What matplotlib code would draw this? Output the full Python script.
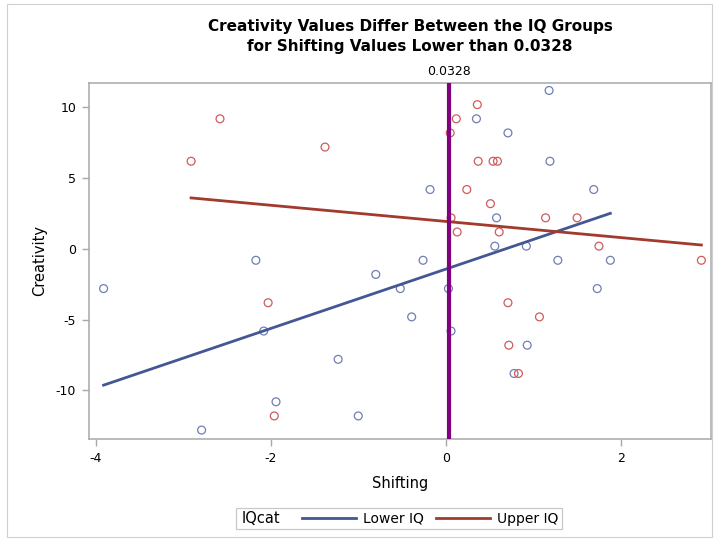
import numpy as np
import matplotlib
matplotlib.use("Agg")
import matplotlib.pyplot as plt
from matplotlib.patches import Rectangle

# ---- data ----
lower_x = [1.18, 0.35, 0.71, 1.19, -0.18, 1.69, 0.58, 0.56, 0.92, -3.91, -2.17, -2.08,
           -0.80, -0.26, -0.52, -0.39, -1.23, -1.00, -1.94, -2.79, 0.03, 0.06, 1.28,
           1.88, 1.73, 0.93, 0.78]
lower_y = [11.2, 9.2, 8.2, 6.2, 4.2, 4.2, 2.2, 0.2, 0.2, -2.8, -0.8, -5.8,
           -1.8, -0.8, -2.8, -4.8, -7.8, -11.8, -10.8, -12.8, -2.8, -5.8, -0.8,
           -0.8, -2.8, -6.8, -8.8]
upper_x = [-2.58, -2.91, -1.38, 0.36, 0.12, 0.05, 0.37, 0.54, 0.59, 0.24, 0.51, 0.06,
           0.13, 0.61, 1.14, 1.50, 1.75, 2.92, -2.03, -1.96, 0.71, 1.07, 0.72, 0.83]
upper_y = [9.2, 6.2, 7.2, 10.2, 9.2, 8.2, 6.2, 6.2, 6.2, 4.2, 3.2, 2.2,
           1.2, 1.2, 2.2, 2.2, 0.2, -0.8, -3.8, -11.8, -3.8, -4.8, -6.8, -8.8]
cutoff = 0.0328
x_ticks = [-4, -2, 0, 2]
y_ticks = [-10, -5, 0, 5, 10]
group_labels = ["Lower IQ", "Upper IQ"]

# ---- style ----
line_cols = ["#445694", "#A23A2E"]
mark_cols = ["#6F7EB3", "#D05B5B"]
axis_col = "#A8A8A8"
plt.rcParams['font.family'] = ['DejaVu Sans']
plt.rcParams['axes.unicode_minus'] = False

W, H = 714, 539
fig = plt.figure(figsize=(W / 100, H / 100), dpi=100)
fig.patches.append(Rectangle((7 / W, 2 / H), (W - 9) / W, (H - 6) / H, transform=fig.transFigure,
                             fill=False, edgecolor="#D0D0D0", linewidth=0.8))

ax = fig.add_axes([88.7 / W, 1 - 439 / H, (711 - 88.7) / W, (439 - 82.7) / H])
ax.set_xlim(-4.08, 3.03)
ax.set_ylim(-13.43, 11.75)

groups = [(lower_x, lower_y), (upper_x, upper_y)]
handles = []
for (gx, gy), lc, mc, lab in zip(groups, line_cols, mark_cols, group_labels):
    gx = np.array(gx); gy = np.array(gy)
    ax.scatter(gx, gy, s=32, facecolors="none", edgecolors=mc, linewidths=0.9, zorder=3)
    b, a = np.polyfit(gx, gy, 1)
    xs = np.array([gx.min(), gx.max()])
    h, = ax.plot(xs, a + b * xs, color=lc, linewidth=2, zorder=4, label=lab)
    handles.append(h)

ax.axvline(cutoff, color="#800080", linewidth=3, zorder=5)
ax.text(cutoff, 1.012, "0.0328", transform=ax.get_xaxis_transform(), ha="center", va="bottom",
        fontsize=9)

ax.set_xticks(x_ticks)
ax.set_yticks(y_ticks)
for s in ax.spines.values():
    s.set_color(axis_col)
    s.set_linewidth(1.1)
ax.tick_params(colors=axis_col, labelcolor="black", length=5, width=1, labelsize=9, pad=4)
ax.set_xlabel("Shifting", fontsize=10.5, labelpad=8)
ax.set_ylabel("Creativity", fontsize=10.5, labelpad=6)

fig.text(410 / W, 1 - 27 / H, "Creativity Values Differ Between the IQ Groups",
         ha="center", va="center", fontsize=11, fontweight="bold")
fig.text(410 / W, 1 - 46 / H, "for Shifting Values Lower than 0.0328",
         ha="center", va="center", fontsize=11, fontweight="bold")

# legend
fig.patches.append(Rectangle((236 / W, 1 - 529 / H), (562 - 236) / W, (529 - 508) / H,
                             transform=fig.transFigure, fill=False, edgecolor="#C8C8C8", linewidth=0.9))
fig.text(242 / W, 1 - 518.5 / H, "IQcat", ha="left", va="center", fontsize=10.5)
fig.legend(handles=handles, labels=group_labels, ncol=2, loc="center",
           bbox_to_anchor=(430 / W, 1 - 518.5 / H), frameon=False, fontsize=10,
           handlelength=3.9, columnspacing=0.9, handletextpad=0.5, borderpad=0)

fig.savefig("out.png", dpi=100)
